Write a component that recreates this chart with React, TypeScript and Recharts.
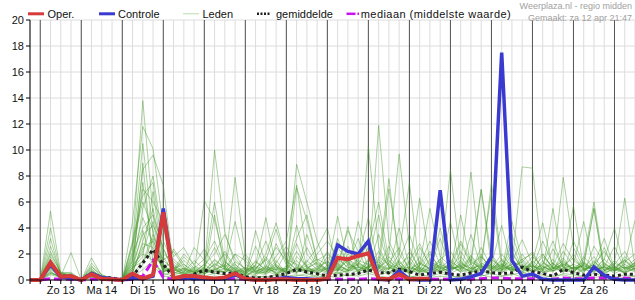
import React from "react";
import { LineChart, Line, XAxis, YAxis, CartesianGrid, ReferenceLine } from "recharts";

// one step = 6 hours, index 0 = za 12 18:00, index 59 = zo 27 12:00
const dayLabels = ["Zo 13", "Ma 14", "Di 15", "Wo 16", "Do 17", "Vr 18", "Za 19", "Zo 20", "Ma 21", "Di 22", "Wo 23", "Do 24", "Vr 25", "Za 26"];
const yTicks = [0, 2, 4, 6, 8, 10, 12, 14, 16, 18, 20];

const oper = [0, 0, 1.35, 0.25, 0.3, 0, 0.45, 0.1, 0.05, 0, 0.5, 0.1, 0.4, 5.2, 0.1, 0.3, 0.3, 0.2, 0.1, 0.2, 0.5, 0.1, 0, 0, 0.05, 0.05, 0, 0, 0, 0.1, 1.7, 1.6, 1.85, 2.05, 0.1, 0.05, 0.45, 0.05, 0.1, 0.1,
  null, null, null, null, null, null, null, null, null, null, null, null, null, null, null, null, null, null, null, null];

const controle = [0, 0, 1.2, 0.2, 0.15, 0, 0.5, 0.2, 0.1, 0, 0.15, 0.1, 0.3, 5.5, 0.1, 0.2, 0.1, 0.1, 0.05, 0.1, 0.4, 0.1, 0, 0, 0.1, 0.2, 0.1, 0.1, 0, 0.1, 2.7, 2.2, 2.0, 3.0, 0.05, 0, 0.7, 0.05, 0, 0, 6.9, 0, 0.05, 0.25, 0.5, 1.8, 17.5, 1.5, 0.3, 0.45, 0.05, 0, 0, 0, 0, 1.0, 0.35, 0.05, 0, 0];

const gemiddelde = [0, 0.05, 1.3, 0.3, 0.3, 0.05, 0.5, 0.2, 0.15, 0.05, 0.3, 1.3, 2.35, 1.2, 0.2, 0.2, 0.45, 0.75, 0.6, 0.5, 0.55, 0.25, 0.15, 0.2, 0.3, 0.5, 0.82, 0.62, 0.48, 0.3, 0.38, 0.42, 0.5, 0.77, 0.56, 0.56, 0.85, 0.64, 0.38, 0.5, 0.6, 0.45, 0.38, 0.54, 0.7, 0.56, 0.5, 0.55, 1.0, 0.64, 0.5, 0.3, 0.82, 0.56, 0.38, 0.45, 0.38, 0.3, 0.45, 0.45];

const mediaan = [0, 0, 0.1, 0.05, 0.05, 0, 0.05, 0.05, 0, 0, 0.05, 0.3, 1.5, 0.2, 0.05, 0.1, 0.1, 0.15, 0.1, 0.1, 0.1, 0.05, 0.05, 0.05, 0.05, 0.05, 0.1, 0.05, 0.05, 0.05, 0.05, 0.05, 0.05, 0.1, 0.05, 0.05, 0.1, 0.05, 0.05, 0.05, 0.05, 0.05, 0.05, 0.05, 0.1, 0.15, 0.15, 0.1, 0.1, 0.1, 0.05, 0.05, 0.15, 0.1, 0.1, 0.15, 0.15, 0.1, 0.15, 0.1];

const leden = [
  [0, 0, 5.3, 0.5, 0.3, 0, 0.6, 0.2, 0.1, 0, 2.6, 13.8, 5.0, 2.4, 0.8, 0.4, 0.9, 1.6, 3.0, 1.0, 0.4, 0.2, 0.9, 1.6, 0.5, 0.3, 1.8, 1.1, 0.4, 0.5, 1.3, 0.7, 1.6, 2.8, 1.0, 0.4, 1.5, 0.5, 1.1, 2.2, 0.7, 0.9, 2.8, 1.2, 0.5, 1.4, 0.7, 2.0, 0.9, 0.4, 1.5, 0.7, 2.2, 1.1, 0.5, 2.6, 1.3, 0.7, 1.8, 1.1],
  [0, 0, 4.0, 0.4, 0.2, 0, 1.7, 0.3, 0, 0, 4.5, 11.8, 10.1, 4.0, 1.0, 0.3, 0.5, 0.8, 10.0, 3.7, 1.2, 0.5, 0.3, 1.0, 2.5, 1.5, 0.8, 0.5, 0.3, 1.2, 0.6, 2.0, 1.4, 0.8, 11.9, 3.0, 1.2, 0.4, 0.9, 0.5, 1.6, 2.2, 1.0, 0.6, 1.8, 0.9, 0.5, 1.4, 3.1, 1.2, 0.4, 0.9, 1.7, 0.6, 1.3, 0.8, 0.4, 1.1, 0.5, 0.9],
  [0, 0, 3.2, 0.3, 2.1, 0, 0.5, 0.1, 0, 0, 1.8, 8.5, 9.6, 7.3, 0.9, 0.5, 0.3, 0.6, 1.2, 0.8, 7.9, 1.8, 0.6, 0.4, 1.1, 0.8, 7.1, 4.6, 1.5, 0.7, 0.4, 1.2, 0.9, 10.3, 2.5, 1.0, 0.6, 1.3, 0.5, 0.8, 1.2, 8.5, 1.4, 0.6, 1.0, 0.5, 1.1, 0.7, 1.6, 2.0, 0.8, 1.3, 0.6, 1.0, 0.7, 1.5, 0.5, 0.9, 0.6, 1.4],
  [0, 0, 2.6, 0.5, 0.4, 0, 1.3, 0.4, 0.1, 0, 3.0, 6.5, 7.5, 2.0, 1.4, 0.8, 0.4, 1.0, 6.0, 1.5, 0.6, 0.4, 1.2, 4.8, 1.0, 0.6, 8.9, 6.0, 3.0, 1.0, 0.8, 0.6, 1.5, 1.2, 0.9, 2.0, 9.7, 2.5, 0.7, 0.5, 1.0, 0.6, 1.3, 8.3, 1.1, 0.8, 1.6, 0.9, 0.5, 1.3, 0.6, 1.0, 7.9, 2.5, 0.9, 0.6, 1.2, 0.8, 1.5, 0.7],
  [0, 0, 2.0, 0.6, 0.3, 0, 1.1, 0.2, 0, 0, 2.2, 10.5, 3.5, 1.5, 2.2, 1.0, 0.6, 6.1, 4.6, 1.4, 0.8, 0.3, 3.8, 1.2, 0.4, 1.1, 0.6, 1.4, 2.5, 4.0, 0.7, 1.8, 0.6, 1.5, 0.8, 7.0, 2.0, 0.9, 6.3, 1.4, 0.6, 1.0, 0.7, 1.5, 7.0, 1.8, 0.8, 1.2, 8.7, 8.6, 1.4, 0.7, 1.1, 0.5, 1.6, 6.0, 1.0, 0.7, 1.2, 4.6],
  [0, 0, 1.8, 0.4, 0.3, 0, 0.7, 0.3, 0.2, 0, 1.5, 7.0, 6.0, 4.5, 1.8, 2.5, 1.1, 0.7, 1.5, 1.0, 4.5, 1.2, 0.8, 2.0, 4.4, 1.6, 1.2, 0.8, 0.5, 0.9, 4.9, 1.3, 0.8, 1.0, 1.4, 0.6, 1.1, 0.5, 1.2, 5.5, 1.8, 1.1, 0.6, 1.9, 0.9, 7.5, 1.5, 0.8, 0.6, 1.4, 4.4, 0.9, 1.5, 5.7, 0.8, 1.2, 0.6, 1.3, 6.3, 1.0],
  [0, 0, 1.5, 0.2, 0.4, 0, 0.9, 0.1, 0, 0, 0.8, 5.5, 8.0, 3.0, 1.2, 0.6, 2.5, 1.5, 0.9, 2.2, 1.0, 0.6, 1.4, 0.8, 1.8, 3.0, 7.3, 2.0, 1.0, 1.4, 0.8, 4.1, 1.0, 0.7, 1.5, 7.8, 1.2, 1.8, 0.6, 0.9, 1.4, 0.7, 5.0, 1.2, 1.8, 0.9, 2.0, 1.0, 0.7, 1.1, 0.7, 5.5, 0.9, 1.2, 4.5, 0.8, 1.6, 4.0, 0.9, 1.3],
  [0, 0, 1.2, 0.3, 0.2, 0, 0.4, 0.2, 0.1, 0, 2.0, 4.0, 5.0, 1.0, 0.7, 1.5, 0.8, 0.5, 5.0, 0.9, 2.0, 1.5, 0.6, 1.0, 0.8, 0.9, 3.2, 5.0, 1.5, 2.0, 1.2, 0.7, 4.5, 1.8, 1.0, 0.8, 2.0, 7.5, 0.8, 0.5, 1.2, 0.8, 1.1, 0.6, 1.5, 6.7, 1.0, 1.5, 1.0, 0.6, 1.3, 0.9, 1.2, 0.8, 1.2, 5.5, 0.7, 1.0, 0.6, 0.9],
  [0, 0, 1.0, 0.5, 0.6, 0, 0.3, 0.1, 0, 0, 1.2, 3.5, 4.2, 2.5, 0.5, 0.9, 0.6, 1.2, 2.0, 3.5, 1.6, 0.8, 1.0, 0.6, 1.2, 0.5, 1.0, 0.7, 2.0, 3.0, 1.8, 0.9, 1.2, 2.5, 6.0, 1.5, 0.8, 1.0, 2.5, 1.2, 0.9, 1.6, 0.8, 3.5, 1.0, 1.2, 4.2, 0.9, 1.4, 2.2, 0.7, 1.1, 2.8, 1.5, 0.9, 1.8, 0.7, 1.2, 2.2, 0.8],
  [0, 0, 0.8, 0.3, 0.2, 0, 0.5, 0.3, 0.2, 0, 0.6, 2.5, 3.0, 1.5, 0.8, 0.5, 0.4, 0.9, 0.6, 1.4, 0.8, 0.4, 2.6, 0.9, 0.5, 0.7, 0.5, 3.5, 1.2, 0.8, 2.5, 1.4, 0.6, 1.0, 0.6, 1.3, 2.5, 0.7, 1.4, 0.8, 3.2, 0.9, 1.5, 0.7, 2.5, 1.0, 0.6, 3.5, 1.2, 0.8, 1.8, 1.0, 0.6, 3.0, 1.2, 0.7, 1.0, 0.6, 1.4, 2.0],
  [0, 0, 0.6, 0.2, 0.1, 0, 0.2, 0.1, 0, 0, 0.9, 1.8, 6.8, 1.2, 0.4, 0.6, 1.5, 0.8, 0.5, 0.7, 1.2, 0.6, 0.4, 1.8, 0.7, 2.2, 0.9, 0.6, 0.8, 1.5, 0.7, 2.6, 1.0, 0.8, 3.5, 1.2, 0.6, 1.4, 0.8, 2.0, 0.9, 0.7, 2.2, 1.0, 0.5, 0.8, 1.5, 0.6, 2.0, 0.9, 3.0, 1.2, 0.8, 0.6, 1.8, 0.9, 2.5, 0.7, 1.0, 0.6],
  [0, 0, 0.5, 0.3, 0.2, 0, 0.6, 0.2, 0.1, 0, 0.4, 1.5, 2.2, 0.8, 1.6, 0.9, 0.5, 0.4, 1.3, 0.8, 0.6, 1.0, 0.7, 0.5, 2.8, 1.2, 0.6, 1.5, 0.8, 0.5, 1.1, 0.8, 1.7, 4.8, 0.9, 0.5, 1.4, 0.6, 1.8, 0.7, 1.1, 0.5, 0.9, 1.6, 0.7, 2.0, 0.8, 1.2, 0.6, 1.5, 0.7, 2.4, 1.0, 0.6, 1.3, 0.8, 1.6, 0.9, 0.5, 1.2],
  [0, 0, 1.4, 0.4, 0.3, 0, 0.8, 0.2, 0.1, 0, 1.6, 4.8, 2.8, 0.6, 0.9, 1.2, 0.7, 0.6, 0.8, 1.1, 0.5, 0.3, 0.8, 0.5, 0.9, 0.6, 4.2, 1.0, 0.6, 1.8, 0.9, 0.5, 1.2, 0.9, 1.6, 0.8, 4.0, 1.1, 0.6, 1.6, 0.8, 4.5, 0.9, 0.7, 1.3, 0.8, 1.2, 0.6, 1.0, 0.7, 1.0, 0.8, 1.3, 0.9, 0.6, 1.4, 0.8, 1.0, 0.7, 1.1],
  [0, 0, 1.6, 0.3, 0.4, 0, 0.4, 0.3, 0, 0, 2.8, 6.0, 3.8, 0.9, 0.6, 0.4, 0.8, 0.5, 0.7, 0.6, 0.9, 0.5, 1.5, 0.7, 0.4, 0.8, 0.6, 0.9, 1.3, 0.7, 3.2, 1.1, 0.8, 0.6, 1.0, 1.5, 0.7, 0.9, 0.7, 1.2, 0.6, 1.0, 0.8, 0.5, 1.1, 0.7, 0.9, 2.8, 0.8, 1.1, 0.6, 0.9, 1.5, 0.8, 1.1, 0.7, 1.0, 0.5, 0.9, 1.6],
  [0, 0, 1.1, 0.2, 0.2, 0, 0.3, 0.1, 0, 0, 0.5, 3.0, 5.5, 1.8, 0.5, 0.8, 0.6, 1.2, 0.6, 0.9, 0.5, 0.8, 0.5, 0.6, 1.5, 0.5, 0.9, 0.7, 1.0, 0.6, 0.8, 1.5, 0.7, 1.3, 0.7, 0.9, 1.2, 0.5, 1.0, 0.7, 0.8, 1.2, 0.6, 0.9, 0.7, 0.5, 1.0, 0.8, 1.2, 0.6, 0.9, 1.3, 0.7, 1.0, 0.8, 0.6, 1.1, 0.7, 1.2, 0.8],
  [0, 0, 0.9, 0.2, 0.3, 0, 0.5, 0.1, 0, 0, 1.0, 2.2, 4.5, 0.7, 0.9, 0.5, 1.0, 0.6, 0.9, 0.5, 1.4, 0.9, 0.6, 1.1, 0.5, 0.9, 0.6, 0.8, 0.6, 0.9, 0.5, 0.7, 1.0, 0.6, 1.2, 0.5, 0.9, 0.7, 0.6, 1.0, 0.5, 0.8, 1.1, 0.6, 0.9, 1.1, 0.6, 0.9, 0.5, 0.8, 0.6, 0.7, 0.9, 0.5, 0.8, 1.0, 0.6, 0.8, 0.6, 0.9],
  [0, 0, 0.7, 0.1, 0.1, 0, 0.2, 0.1, 0, 0, 0.3, 1.2, 3.2, 0.5, 0.3, 0.4, 0.2, 0.3, 0.5, 0.4, 0.3, 0.2, 0.3, 0.2, 0.4, 0.3, 0.4, 0.3, 0.2, 0.4, 0.6, 0.3, 0.5, 0.7, 0.4, 0.6, 0.3, 0.2, 0.4, 0.3, 0.5, 0.3, 0.2, 0.4, 0.3, 0.5, 0.3, 0.4, 0.6, 0.3, 0.4, 0.2, 0.5, 0.4, 0.3, 0.5, 0.3, 0.2, 0.4, 0.3],
  [0, 0, 0.4, 0.2, 0.1, 0, 0.3, 0.1, 0, 0, 0.2, 0.8, 1.5, 0.3, 0.2, 0.3, 0.1, 0.2, 0.3, 0.2, 0.1, 0.1, 0.2, 0.3, 0.2, 0.2, 0.3, 0.5, 0.2, 0.3, 0.2, 0.4, 0.3, 0.5, 0.3, 0.2, 0.4, 0.3, 0.2, 0.2, 0.3, 0.2, 0.3, 0.2, 0.4, 0.2, 0.3, 0.5, 0.2, 0.3, 0.2, 0.3, 0.4, 0.2, 0.3, 0.2, 0.3, 0.1, 0.2, 0.3],
  [0, 0, 2.2, 0.5, 0.4, 0, 0.6, 0.3, 0.1, 0, 1.4, 7.5, 2.0, 1.0, 0.8, 2.0, 1.2, 2.4, 1.0, 0.6, 2.0, 0.7, 1.1, 3.0, 1.0, 0.6, 2.2, 0.9, 1.4, 0.8, 1.6, 1.0, 0.7, 1.6, 5.0, 0.9, 0.7, 2.2, 0.9, 0.6, 4.0, 1.0, 1.8, 0.8, 1.2, 1.6, 0.8, 4.5, 1.5, 0.7, 1.2, 3.0, 0.9, 2.0, 0.7, 1.2, 3.2, 0.9, 1.6, 0.8],
  [0, 0, 1.3, 0.6, 0.5, 0, 1.0, 0.4, 0.1, 0, 0.7, 9.0, 1.2, 0.6, 1.1, 0.7, 0.5, 1.0, 2.5, 0.8, 0.7, 2.0, 0.9, 0.6, 1.3, 2.6, 1.1, 0.7, 0.9, 0.6, 1.2, 3.8, 2.2, 0.7, 1.1, 0.9, 1.5, 3.5, 1.2, 0.9, 0.6, 1.4, 0.9, 1.2, 6.9, 1.1, 0.7, 1.0, 1.6, 0.9, 1.1, 0.6, 1.4, 0.8, 1.1, 5.5, 0.7, 1.5, 0.8, 1.3],
  [0, 0, 0.9, 0.3, 0.2, 0, 0.6, 0.2, 0.1, 0, 1.2, 2.0, 1.5, 0.5, 2.4, 1.2, 0.6, 0.8, 1.1, 2.0, 0.8, 0.6, 0.9, 1.5, 3.9, 1.4, 0.8, 2.5, 1.1, 0.7, 2.0, 1.2, 3.2, 0.9, 1.8, 1.2, 0.8, 1.5, 2.8, 1.0, 0.7, 1.2, 3.0, 1.4, 0.9, 1.6, 1.0, 2.2, 0.8, 1.3, 2.0, 0.9, 1.1, 1.7, 0.8, 1.2, 2.2, 1.0, 1.5, 0.9],
  [0, 0, 0.6, 0.2, 0.3, 0, 0.4, 0.2, 0, 0, 0.8, 3.8, 1.0, 0.4, 0.6, 1.8, 0.9, 0.5, 0.8, 0.6, 1.0, 0.4, 0.7, 0.9, 0.6, 0.9, 1.5, 0.6, 0.8, 2.2, 1.0, 0.8, 0.6, 1.1, 0.8, 1.8, 0.9, 0.6, 1.1, 3.0, 1.2, 0.8, 1.3, 0.9, 2.0, 0.7, 1.2, 0.8, 0.9, 1.8, 1.0, 0.7, 1.2, 0.9, 1.4, 0.8, 1.0, 2.6, 0.8, 1.1],
  [0, 0, 1.0, 0.2, 0.2, 0, 0.3, 0.1, 0, 0, 0.6, 2.8, 2.5, 0.8, 0.7, 0.9, 0.6, 0.7, 1.6, 0.9, 0.6, 0.9, 0.5, 0.8, 1.0, 0.7, 2.8, 0.9, 0.7, 1.0, 0.7, 1.6, 1.1, 0.8, 1.0, 2.6, 0.8, 1.0, 0.7, 1.4, 1.0, 0.9, 1.0, 1.8, 0.7, 1.2, 0.8, 1.0, 1.4, 0.6, 2.0, 0.9, 0.8, 1.2, 0.9, 1.0, 0.8, 1.3, 0.9, 1.1],
  [0, 0, 0.5, 0.3, 0.5, 0, 0.7, 0.2, 0.2, 0, 1.0, 1.4, 3.5, 0.6, 1.0, 0.6, 0.4, 0.6, 0.8, 1.2, 0.7, 0.5, 1.1, 0.7, 0.8, 0.5, 0.8, 1.1, 1.6, 1.2, 0.9, 0.7, 1.3, 0.9, 2.2, 1.0, 0.7, 0.8, 1.3, 0.9, 1.6, 0.7, 1.2, 0.9, 1.1, 0.9, 1.3, 0.7, 1.0, 1.1, 0.8, 1.6, 0.7, 0.9, 1.1, 0.8, 1.3, 0.8, 1.0, 0.7],
];

const data = controle.map((c, i) => {
  const row: Record<string, number | null> = {
    i,
    oper: oper[i],
    controle: c,
    gemiddelde: gemiddelde[i],
    mediaan: mediaan[i],
  };
  leden.forEach((m, k) => {
    row["lid" + k] = m[i];
  });
  return row;
});

const allSteps = data.map((d) => d.i as number);
const midnights = Array.from({ length: dayLabels.length + 1 }, (_, d) => 1 + d * 4);

const FONT = "'Liberation Sans', Arial, sans-serif";

const DayTick = (props: any) => {
  const { x, y, payload } = props;
  const k = payload.value - 3;
  if (k < 0 || k % 4 !== 0 || !dayLabels[k / 4]) return <g />;
  return (
    <text x={x} y={y} dy={8} textAnchor="middle" fontSize={11} fill="#111" fontFamily={FONT}>
      {dayLabels[k / 4]}
    </text>
  );
};

const Legend = () => (
  <svg width={635} height={24} style={{ position: "absolute", left: 0, top: 0 }}>
    <g fontFamily={FONT} fontSize={11} fill="#111">
      <line x1={28} x2={44} y1={13.8} y2={13.8} stroke="#d63a3a" strokeWidth={3} />
      <text x={47.5} y={17.5}>Oper.</text>
      <line x1={99} x2={115} y1={13.8} y2={13.8} stroke="#3a3ad0" strokeWidth={3} />
      <text x={118} y={17.5}>Controle</text>
      <line x1={183} x2={199} y1={13.8} y2={13.8} stroke="#b8dcaa" strokeWidth={1} />
      <text x={202.5} y={17.5}>Leden</text>
      <line x1={257} x2={270} y1={13.8} y2={13.8} stroke="#222" strokeWidth={2.5} strokeDasharray="2 1.5" />
      <text x={276} y={17.5}>gemiddelde</text>
      <line x1={346.5} x2={355.5} y1={13.8} y2={13.8} stroke="#cc11ee" strokeWidth={2.5} />
      <line x1={357.5} x2={359} y1={13.8} y2={13.8} stroke="#cc11ee" strokeWidth={2.5} />
      <text x={360.7} y={17.5} textLength={150} lengthAdjust="spacing">mediaan (middelste waarde)</text>
    </g>
    <g fontFamily={FONT} fontSize={9} fill="#a0a0a0" textAnchor="end">
      <text x={632} y={9}>Weerplaza.nl - regio midden</text>
      <text x={632} y={20.5}>Gemaakt: za 12 apr 21:47</text>
    </g>
  </svg>
);

export default function App() {
  return (
    <div style={{ position: "absolute", left: 0, top: 0, width: 635, height: 300, background: "#fff", fontFamily: FONT }}>
      <LineChart width={635} height={300} data={data} margin={{ top: 20, right: 0, bottom: 0, left: 0 }}>
        <CartesianGrid stroke="#dcdcdc" strokeWidth={1} />
        <XAxis
          dataKey="i"
          type="number"
          domain={[0, 59]}
          ticks={allSteps}
          interval={0}
          height={20}
          tickSize={4}
          tickMargin={2}
          axisLine={{ stroke: "#000" }}
          tickLine={{ stroke: "#000" }}
          tick={<DayTick />}
        />
        <XAxis
          xAxisId="top"
          dataKey="i"
          type="number"
          domain={[0, 59]}
          orientation="top"
          mirror
          height={0}
          ticks={allSteps}
          interval={0}
          tickSize={4}
          tick={false}
          axisLine={{ stroke: "#000" }}
          tickLine={{ stroke: "#000" }}
        />
        <YAxis
          type="number"
          domain={[0, 20]}
          ticks={yTicks}
          width={30}
          tickSize={4}
          tickMargin={2}
          interval={0}
          axisLine={{ stroke: "#000" }}
          tickLine={{ stroke: "#000" }}
          tick={{ fontSize: 11, fill: "#111", fontFamily: FONT }}
        />
        {midnights.map((m) => (
          <ReferenceLine key={m} x={m} stroke="#555" strokeWidth={1} />
        ))}
        {leden.map((_, k) => (
          <Line
            key={k}
            type="linear"
            dataKey={"lid" + k}
            stroke="#45982a"
            strokeOpacity={0.45}
            strokeWidth={1}
            dot={false}
            activeDot={false}
            isAnimationActive={false}
          />
        ))}
        <Line type="linear" dataKey="mediaan" stroke="#cc11ee" strokeWidth={3} strokeDasharray="8 4" dot={false} isAnimationActive={false} />
        <Line type="linear" dataKey="gemiddelde" stroke="#222" strokeWidth={3} strokeDasharray="3 3" dot={false} isAnimationActive={false} />
        <Line type="linear" dataKey="controle" stroke="#3a3ad0" strokeWidth={3.5} dot={false} isAnimationActive={false} />
        <Line type="linear" dataKey="oper" stroke="#d63a3a" strokeWidth={4} dot={false} isAnimationActive={false} />
      </LineChart>
      <Legend />
    </div>
  );
}
